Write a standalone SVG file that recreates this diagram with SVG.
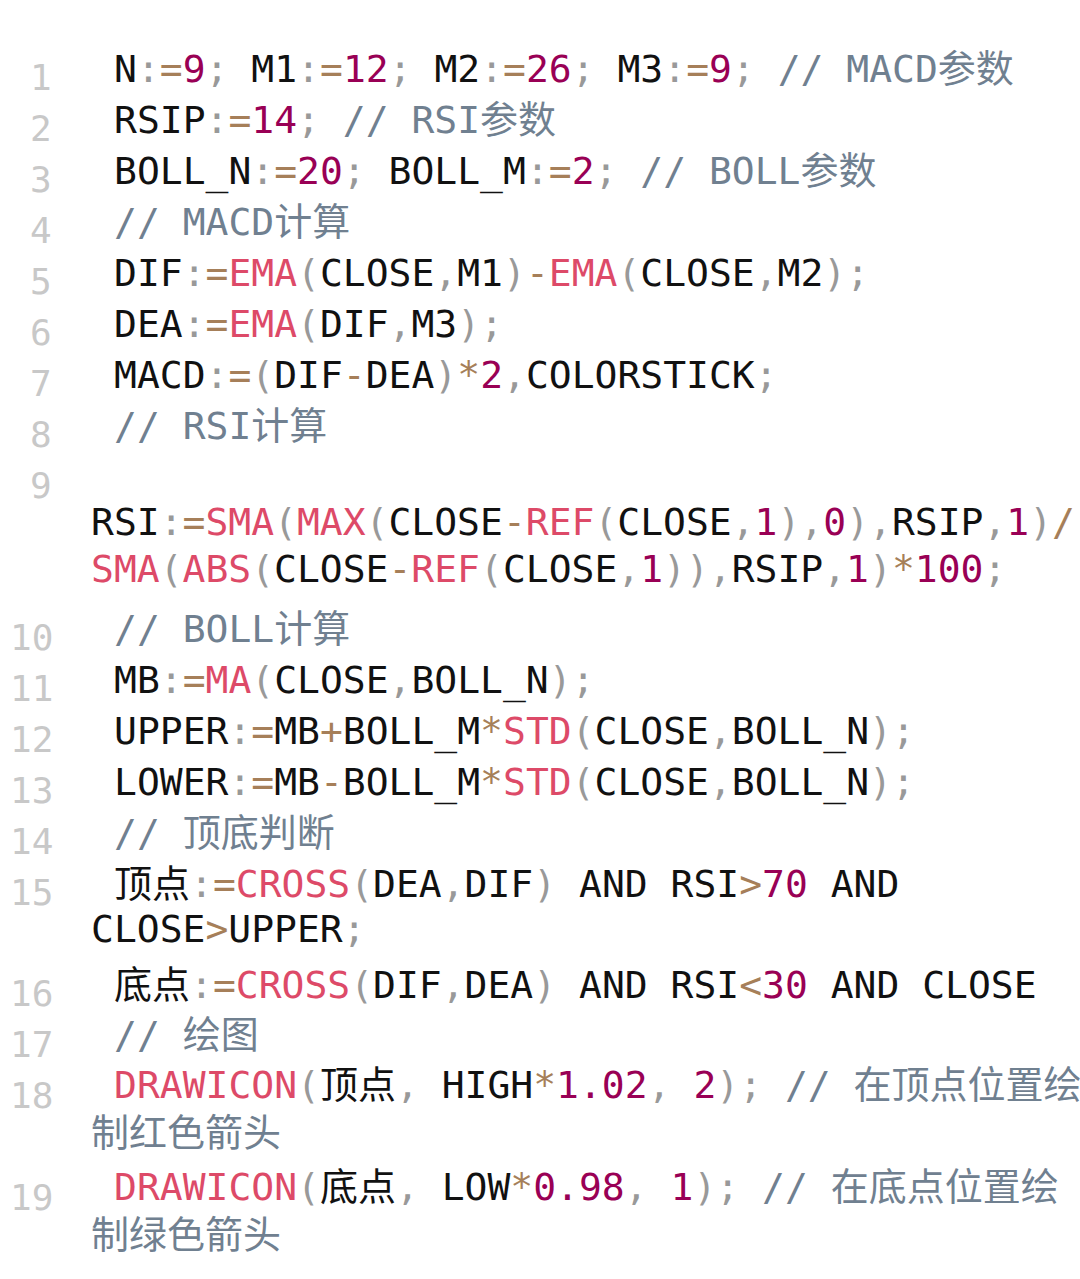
<svg xmlns="http://www.w3.org/2000/svg" width="1080" height="1279" viewBox="0 0 1080 1279">
<style>
text{font-family:"DejaVu Sans Mono","Noto Sans CJK SC",monospace;font-size:38px;fill:#111;white-space:pre}
.ln{fill:#c8c8c8;font-size:36px}
.p{fill:#999}.o{fill:#a67f59}.n{fill:#990055}.f{fill:#dd4a68}.c{fill:#708090}
</style>
<rect width="1080" height="1279" fill="#fff"/>
<g id="linenums">
<text class="ln" x="30" y="90">1</text><text class="ln" x="30" y="141">2</text><text class="ln" x="30" y="192">3</text><text class="ln" x="30" y="243">4</text><text class="ln" x="30" y="294">5</text><text class="ln" x="30" y="345">6</text><text class="ln" x="30" y="396">7</text><text class="ln" x="30" y="447">8</text><text class="ln" x="30" y="498">9</text><text class="ln" x="10" y="650">10</text><text class="ln" x="10" y="701">11</text><text class="ln" x="10" y="752">12</text><text class="ln" x="10" y="803">13</text><text class="ln" x="10" y="854">14</text><text class="ln" x="10" y="905">15</text><text class="ln" x="10" y="1006">16</text><text class="ln" x="10" y="1057">17</text><text class="ln" x="10" y="1108">18</text><text class="ln" x="10" y="1210">19</text>
</g>
<g id="code">
<text x="114" y="82">N<tspan class="p">:</tspan><tspan class="o">=</tspan><tspan class="n">9</tspan><tspan class="p">;</tspan> M1<tspan class="p">:</tspan><tspan class="o">=</tspan><tspan class="n">12</tspan><tspan class="p">;</tspan> M2<tspan class="p">:</tspan><tspan class="o">=</tspan><tspan class="n">26</tspan><tspan class="p">;</tspan> M3<tspan class="p">:</tspan><tspan class="o">=</tspan><tspan class="n">9</tspan><tspan class="p">;</tspan> <tspan class="c">// MACD参数</tspan></text>
<text x="114" y="133">RSIP<tspan class="p">:</tspan><tspan class="o">=</tspan><tspan class="n">14</tspan><tspan class="p">;</tspan> <tspan class="c">// RSI参数</tspan></text>
<text x="114" y="184">BOLL_N<tspan class="p">:</tspan><tspan class="o">=</tspan><tspan class="n">20</tspan><tspan class="p">;</tspan> BOLL_M<tspan class="p">:</tspan><tspan class="o">=</tspan><tspan class="n">2</tspan><tspan class="p">;</tspan> <tspan class="c">// BOLL参数</tspan></text>
<text x="114" y="235" class="c">// MACD计算</text>
<text x="114" y="286">DIF<tspan class="p">:</tspan><tspan class="o">=</tspan><tspan class="f">EMA</tspan><tspan class="p">(</tspan>CLOSE<tspan class="p">,</tspan>M1<tspan class="p">)</tspan><tspan class="o">-</tspan><tspan class="f">EMA</tspan><tspan class="p">(</tspan>CLOSE<tspan class="p">,</tspan>M2<tspan class="p">);</tspan></text>
<text x="114" y="337">DEA<tspan class="p">:</tspan><tspan class="o">=</tspan><tspan class="f">EMA</tspan><tspan class="p">(</tspan>DIF<tspan class="p">,</tspan>M3<tspan class="p">);</tspan></text>
<text x="114" y="388">MACD<tspan class="p">:</tspan><tspan class="o">=</tspan><tspan class="p">(</tspan>DIF<tspan class="o">-</tspan>DEA<tspan class="p">)</tspan><tspan class="o">*</tspan><tspan class="n">2</tspan><tspan class="p">,</tspan>COLORSTICK<tspan class="p">;</tspan></text>
<text x="114" y="439" class="c">// RSI计算</text>
<text x="91" y="535">RSI<tspan class="p">:</tspan><tspan class="o">=</tspan><tspan class="f">SMA</tspan><tspan class="p">(</tspan><tspan class="f">MAX</tspan><tspan class="p">(</tspan>CLOSE<tspan class="o">-</tspan><tspan class="f">REF</tspan><tspan class="p">(</tspan>CLOSE<tspan class="p">,</tspan><tspan class="n">1</tspan><tspan class="p">),</tspan><tspan class="n">0</tspan><tspan class="p">),</tspan>RSIP<tspan class="p">,</tspan><tspan class="n">1</tspan><tspan class="p">)</tspan><tspan class="o">/</tspan></text>
<text x="91" y="582"><tspan class="f">SMA</tspan><tspan class="p">(</tspan><tspan class="f">ABS</tspan><tspan class="p">(</tspan>CLOSE<tspan class="o">-</tspan><tspan class="f">REF</tspan><tspan class="p">(</tspan>CLOSE<tspan class="p">,</tspan><tspan class="n">1</tspan><tspan class="p">)),</tspan>RSIP<tspan class="p">,</tspan><tspan class="n">1</tspan><tspan class="p">)</tspan><tspan class="o">*</tspan><tspan class="n">100</tspan><tspan class="p">;</tspan></text>
<text x="114" y="642" class="c">// BOLL计算</text>
<text x="114" y="693">MB<tspan class="p">:</tspan><tspan class="o">=</tspan><tspan class="f">MA</tspan><tspan class="p">(</tspan>CLOSE<tspan class="p">,</tspan>BOLL_N<tspan class="p">);</tspan></text>
<text x="114" y="744">UPPER<tspan class="p">:</tspan><tspan class="o">=</tspan>MB<tspan class="o">+</tspan>BOLL_M<tspan class="o">*</tspan><tspan class="f">STD</tspan><tspan class="p">(</tspan>CLOSE<tspan class="p">,</tspan>BOLL_N<tspan class="p">);</tspan></text>
<text x="114" y="795">LOWER<tspan class="p">:</tspan><tspan class="o">=</tspan>MB<tspan class="o">-</tspan>BOLL_M<tspan class="o">*</tspan><tspan class="f">STD</tspan><tspan class="p">(</tspan>CLOSE<tspan class="p">,</tspan>BOLL_N<tspan class="p">);</tspan></text>
<text x="114" y="846" class="c">// 顶底判断</text>
<text x="114" y="897">顶点<tspan class="p">:</tspan><tspan class="o">=</tspan><tspan class="f">CROSS</tspan><tspan class="p">(</tspan>DEA<tspan class="p">,</tspan>DIF<tspan class="p">)</tspan> AND RSI<tspan class="o">&gt;</tspan><tspan class="n">70</tspan> AND</text>
<text x="91" y="942">CLOSE<tspan class="o">&gt;</tspan>UPPER<tspan class="p">;</tspan></text>
<text x="114" y="998">底点<tspan class="p">:</tspan><tspan class="o">=</tspan><tspan class="f">CROSS</tspan><tspan class="p">(</tspan>DIF<tspan class="p">,</tspan>DEA<tspan class="p">)</tspan> AND RSI<tspan class="o">&lt;</tspan><tspan class="n">30</tspan> AND CLOSE</text>
<text x="114" y="1048" class="c">// 绘图</text>
<text x="114" y="1098"><tspan class="f">DRAWICON</tspan><tspan class="p">(</tspan>顶点<tspan class="p">,</tspan> HIGH<tspan class="o">*</tspan><tspan class="n">1.02</tspan><tspan class="p">,</tspan> <tspan class="n">2</tspan><tspan class="p">);</tspan> <tspan class="c">// 在顶点位置绘</tspan></text>
<text x="91" y="1146" class="c">制红色箭头</text>
<text x="114" y="1200"><tspan class="f">DRAWICON</tspan><tspan class="p">(</tspan>底点<tspan class="p">,</tspan> LOW<tspan class="o">*</tspan><tspan class="n">0.98</tspan><tspan class="p">,</tspan> <tspan class="n">1</tspan><tspan class="p">);</tspan> <tspan class="c">// 在底点位置绘</tspan></text>
<text x="91" y="1248" class="c">制绿色箭头</text>
</g>
</svg>
